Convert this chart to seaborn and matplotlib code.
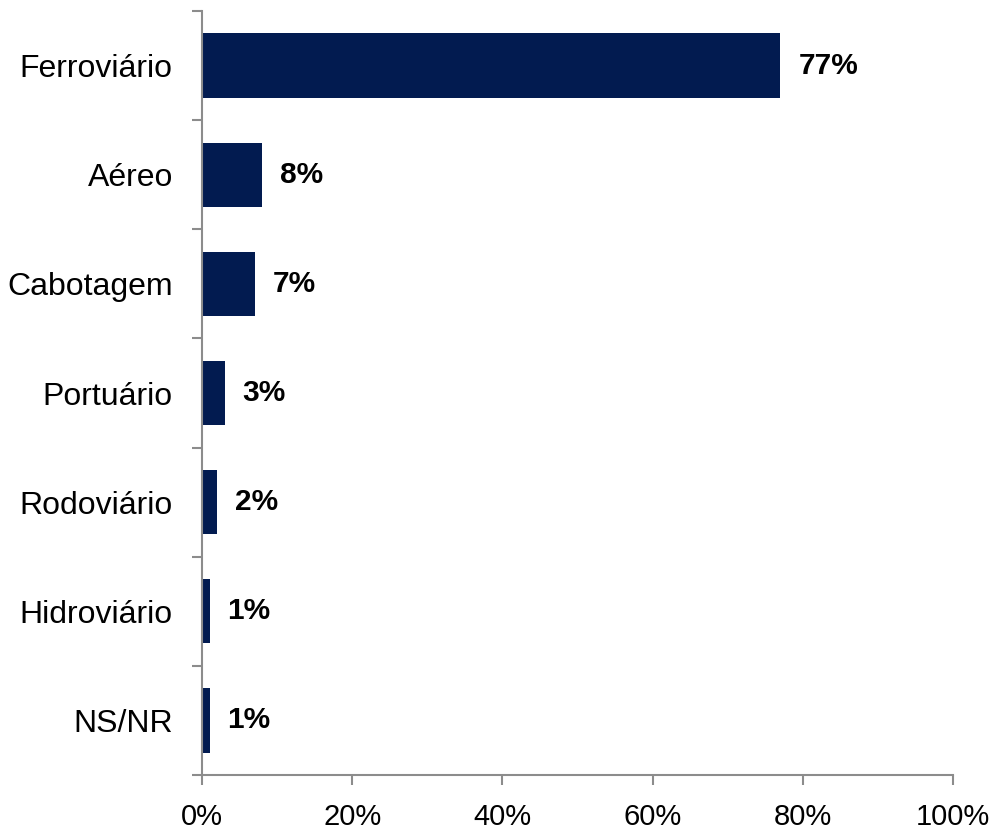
import matplotlib
matplotlib.use("Agg")
import matplotlib.pyplot as plt
import seaborn as sns
import pandas as pd
import numpy as np
from matplotlib.ticker import FixedLocator, PercentFormatter

categories = ["Ferroviário", "Aéreo", "Cabotagem", "Portuário", "Rodoviário", "Hidroviário", "NS/NR"]
values = [77, 8, 7, 3, 2, 1, 1]
xticks = [0, 20, 40, 60, 80, 100]

sns.set_style("white")
plt.rcParams["font.family"] = ["Liberation Sans", "DejaVu Sans"]

df = pd.DataFrame({"cat": categories, "val": values})

fig = plt.figure(figsize=(9.92, 8.32), dpi=100)
ax = fig.add_axes([202/992, 1 - 775/832, (953 - 202)/992, (775 - 11)/832])

bar_color = "#021B50"
sns.barplot(data=df, x="val", y="cat", orient="h", color=bar_color, width=0.59,
            saturation=1, ax=ax, edgecolor="none")

ax.set_xlim(0, 100)
ax.set_ylim(len(categories) - 0.5, -0.5)
ax.set_xlabel("")
ax.set_ylabel("")

spine_color = "#8C8C8C"
for s in ["top", "right"]:
    ax.spines[s].set_visible(False)
for s in ["left", "bottom"]:
    ax.spines[s].set_visible(True)
    ax.spines[s].set_color(spine_color)
    ax.spines[s].set_linewidth(1.5)

ax.set_xticks(xticks)
ax.xaxis.set_major_formatter(PercentFormatter(decimals=0))
ax.tick_params(axis="x", which="major", direction="out", length=7, width=1.5,
               color=spine_color, labelsize=21, pad=13, bottom=True, labelcolor="black")

ax.set_yticks(range(len(categories)))
ax.set_yticklabels(categories)
ax.tick_params(axis="y", which="major", length=0, labelsize=23, pad=21, labelcolor="black")
ax.yaxis.set_minor_locator(FixedLocator(np.arange(-0.5, len(categories), 1.0)))
ax.tick_params(axis="y", which="minor", direction="out", length=7, width=1.5,
               color=spine_color, left=True)

for i, v in enumerate(values):
    ax.annotate(f"{v}%", xy=(v, i), xytext=(13, 0), textcoords="offset points",
                ha="left", va="center", fontsize=21.5, fontweight="bold", color="black")

fig.savefig("out.png", dpi=100)
